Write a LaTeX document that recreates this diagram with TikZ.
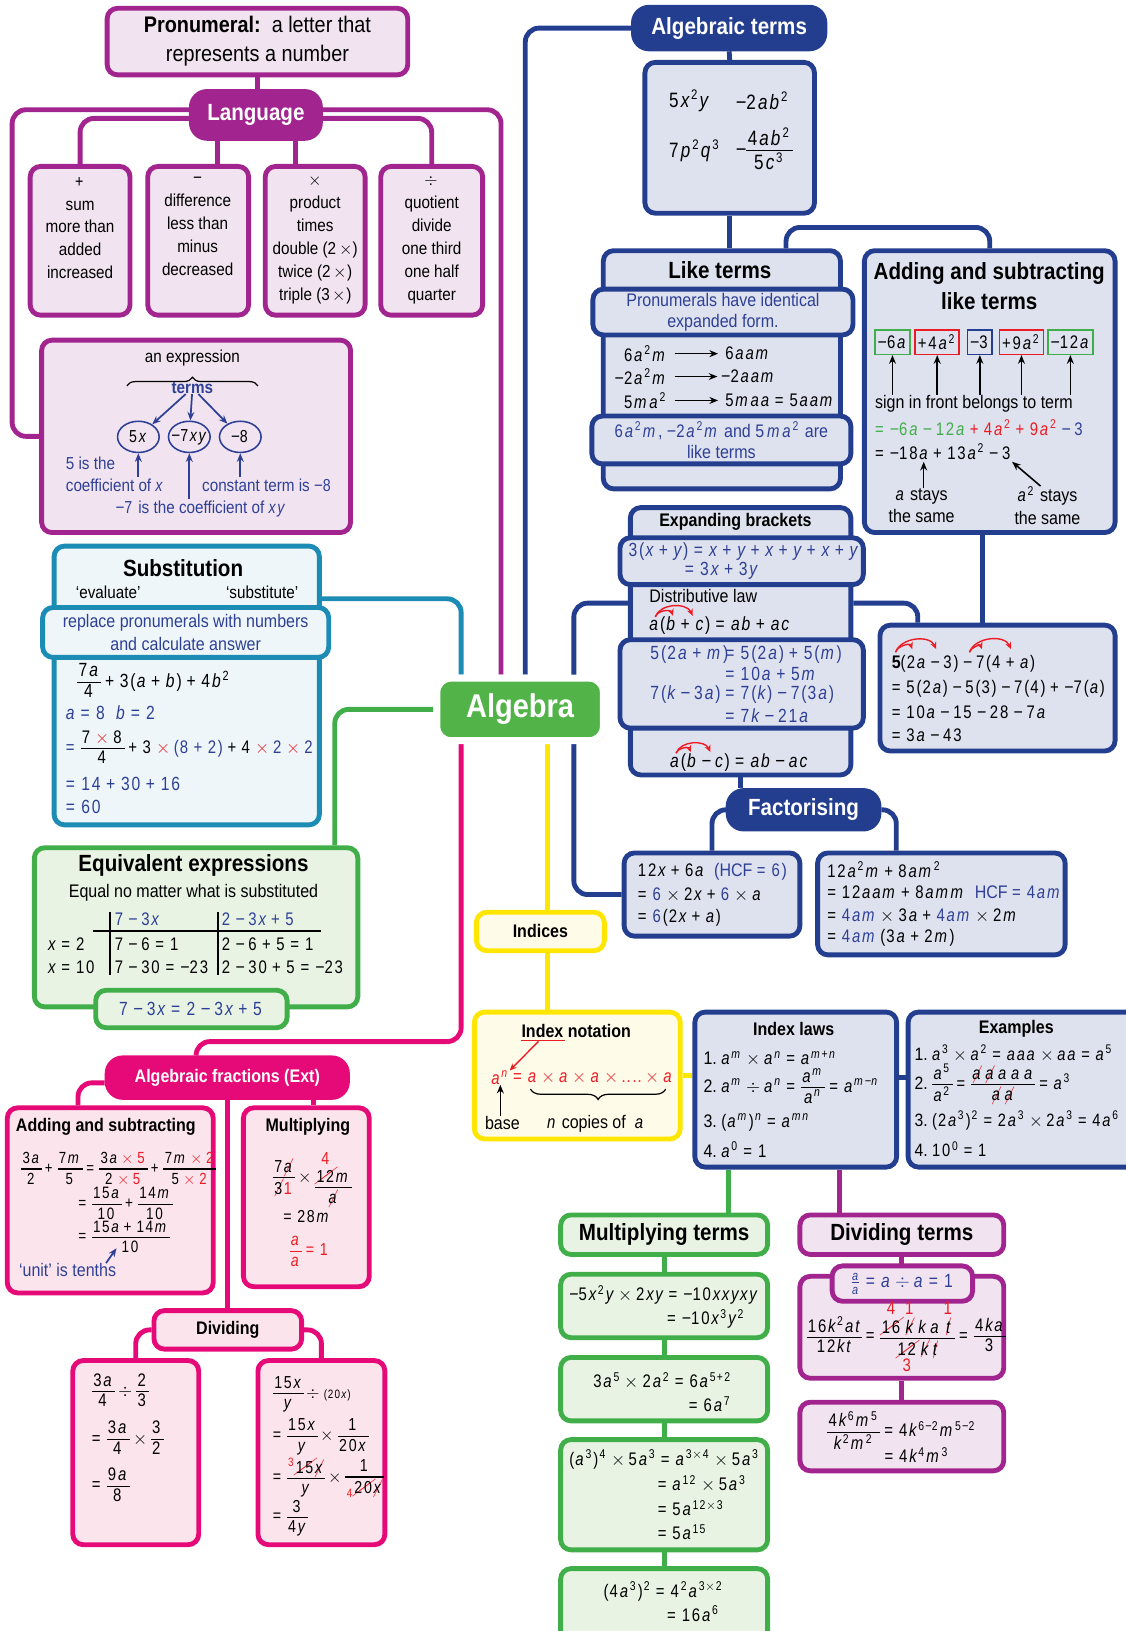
\documentclass[tikz,border=0pt]{standalone}
\usepackage{amsmath}
\usepackage{fontspec}
\setmainfont{Liberation Sans}[FakeStretch=0.88]
\usepackage{unicode-math}
\setmathfont{Latin Modern Math}
\setmathfont{Liberation Sans}[range={up/num,"002B,"003D,"0028,"0029}, FakeStretch=0.82]
\setmathfont{Liberation Sans Italic}[range=it->up, FakeStretch=0.82]
\usepackage{cancel}
\usetikzlibrary{arrows.meta,fit,shapes.geometric,shadows,decorations.pathreplacing}

% short minus taken from the text font
\AtBeginDocument{\mathcode`\-="8000}
\begingroup\lccode`\~=`\-\lowercase{\endgroup\def~}{\mathbin{\text{−}}}

\definecolor{purp}{RGB}{162,36,142}
\definecolor{purpfill}{RGB}{241,228,240}
\definecolor{navy}{RGB}{36,62,143}
\definecolor{navyfill}{RGB}{222,225,238}
\definecolor{subteal}{RGB}{28,140,180}
\definecolor{tealfill}{RGB}{238,246,250}
\definecolor{grn}{RGB}{64,174,73}
\definecolor{grnfill}{RGB}{232,243,228}
\definecolor{algfill}{RGB}{82,180,72}
\definecolor{yel}{RGB}{255,230,0}
\definecolor{yelfill}{RGB}{255,251,233}
\definecolor{pnk}{RGB}{230,10,120}
\definecolor{pnkfill}{RGB}{252,228,236}
\definecolor{tblue}{RGB}{46,64,150}
\definecolor{rd}{RGB}{237,28,36}

\renewcommand{\CancelColor}{\color{rd}}
\newcommand{\redx}{\mathbin{\color{rd}\times}}
\newcommand{\rdig}[1]{{\color{rd}\textstyle #1}}
% compact fraction
\newcommand{\ffstrut}{\vrule height 7.6pt depth 2.2pt width 0pt}
\newcommand{\ff}[2]{\mathord{\vcenter{\offinterlineskip\halign{\hfil\kern0.8pt##\kern0.8pt\hfil\cr\ffstrut$#1$\cr\noalign{\kern0.6pt\hrule height 0.7pt\kern0.8pt}\ffstrut$#2$\cr}}}}
\newcommand{\txtsize}{\fontsize{10}{13.2}\selectfont}
\newcommand{\headsize}{\fontsize{13.5}{17.4}\selectfont\bfseries}
\newcommand{\subheadsize}{\fontsize{10.5}{13}\selectfont\bfseries}
\newcommand{\mthsize}{\fontsize{11}{13.2}\selectfont}
\newcommand{\msz}[1]{\fontsize{#1}{13}\selectfont}
\medmuskip=3.5mu
\thickmuskip=4mu

\pgfdeclarelayer{bg}
\pgfsetlayers{bg,main}

\tikzset{
  cbox/.style={rounded corners=6pt, line width=2.8pt, inner sep=0pt},
  pbox/.style={cbox, draw=purp, fill=purpfill},
  nbox/.style={cbox, draw=navy, fill=navyfill},
  tbox/.style={cbox, draw=subteal, fill=tealfill},
  gbox/.style={cbox, draw=grn, fill=grnfill},
  ybox/.style={cbox, draw=yel, fill=yelfill},
  kbox/.style={cbox, draw=pnk, fill=pnkfill},
  pill/.style={cbox, rounded corners=9pt},
  ppill/.style={pill, draw=purp, fill=purp},
  npill/.style={pill, draw=navy, fill=navy},
  kpill/.style={pill, draw=pnk, fill=pnk},
  algnode/.style={cbox, rounded corners=8pt, draw=white, line width=4pt, fill=algfill,
    drop shadow={opacity=0.3, shadow xshift=1.5pt, shadow yshift=-1.5pt}},
  pilltxt/.style={inner sep=0pt, text=white, font=\headsize},
  txt/.style={inner sep=0pt, align=center, font=\txtsize},
  mth/.style={inner sep=0pt, font=\mthsize, anchor=west},
  head/.style={inner sep=0pt, align=center, font=\headsize},
  subhead/.style={inner sep=0pt, align=center, font=\subheadsize},
  conn/.style={line width=2.8pt, rounded corners=8pt},
  pline/.style={conn, draw=purp},
  nline/.style={conn, draw=navy},
  tline/.style={conn, draw=subteal},
  gline/.style={conn, draw=grn},
  yline/.style={conn, draw=yel},
  kline/.style={conn, draw=pnk},
  barrow/.style={draw=tblue, line width=1pt, -{Stealth[length=5pt,width=4pt]}},
  karrow/.style={draw=black, line width=0.9pt, -{Stealth[length=5pt,width=4pt]}},
  rarc/.style={draw=rd, line width=0.8pt, -{Stealth[length=4pt,width=3.5pt]}},
  ell/.style={ellipse, draw=tblue, line width=0.9pt, minimum width=24pt, minimum height=18pt,
    inner xsep=-2pt, inner ysep=0pt, font=\txtsize},
  tm/.style={draw, line width=0.9pt, inner sep=1.5pt, minimum height=14pt, font=\msz{10.5}}
}

\begin{document}
\begin{tikzpicture}[x=0.6pt, y=-0.6pt]
\useasboundingbox (0,0) rectangle (1082,1568);

% Pronumeral and language
\node[pbox, fit={(103,8)(392,72)}] (pron) {};
\node[txt, font=\fontsize{13}{16.8}\selectfont] (prontxt) at (pron.center) {\textbf{Pronumeral:}\ \ a letter that\\represents a number};
\node[ppill, fit={(184,88)(308,133)}] (lang) {};
\node[pilltxt] (langt) at (lang.center) {Language};

\node[pbox, fit={(29,160)(125,303)}] (sum) {};
\node[pbox, fit={(142,160)(239,303)}] (diff) {};
\node[pbox, fit={(255,160)(351,303)}] (prod) {};
\node[pbox, fit={(366,160)(464,303)}] (quot) {};
\node[txt, anchor=north] (sumtxt) at (77,170) {$+$\\sum\\more than\\added\\increased};
\node[txt, anchor=north] (difftxt) at (190,170) {$-$\\difference\\less than\\minus\\decreased};
\node[txt, anchor=north] (prodtxt) at (303,170) {$\times$\\product\\times\\double (2\,$\times$)\\twice (2\,$\times$)\\triple (3\,$\times$)};
\node[txt, anchor=north] (quottxt) at (415,170) {$\div$\\quotient\\divide\\one third\\one half\\quarter};

% An expression
\node[pbox, fit={(40,327)(337,512)}] (expr) {};
\node[txt] (exprlbl) at (185,344) {an expression};
\draw[decorate, decoration={brace, amplitude=5pt}, line width=0.7pt] (122,371) -- (248,371);
\node[txt, text=tblue, font=\txtsize\bfseries] (terms) at (185,373) {terms};
\node[ell] (e1) at (133,420) {$5x$};
\node[ell] (e2) at (182,420) {$-7xy$};
\node[ell] (e3) at (231,420) {$-8$};
\node[txt, text=tblue, anchor=west] (c5a) at (63,445) {5 is the};
\node[txt, text=tblue, anchor=west] (c5b) at (63,467) {coefficient of $x$};
\node[txt, text=tblue, anchor=west] (c8) at (194,467) {constant term is $-8$};
\node[txt, text=tblue] (c7) at (193,489) {$-7$ is the coefficient of $xy$};
\coordinate (c5p) at (133,459);
\coordinate (c7p) at (182,480);
\coordinate (c8p) at (231,459);
\draw[barrow] (terms) -- (e1);
\draw[barrow] (terms) -- (e2);
\draw[barrow] (terms) -- (e3);
\draw[barrow] (c5p) -- (e1.south);
\draw[barrow] (c7p) -- (e2.south);
\draw[barrow] (c8p) -- (e3.south);

% Substitution
\node[tbox, fit={(52,525)(307,793)}] (subst) {};
\node[head] (substh) at (176,546) {Substitution};
\node[txt] (evalq) at (104,569) {‘evaluate’};
\node[txt] (substq) at (252,569) {‘substitute’};
\node[tbox, fit={(41,584)(316,632)}] (substb) {};
\node[txt, text=tblue, font=\fontsize{10.5}{13}\selectfont] (substbt) at (substb.center) {replace pronumerals with numbers\\and calculate answer};
\node[mth] (sb1) at (74,656) {$\ff{7a}{4} + 3(a + b) + 4b^2$};
\node[mth, text=tblue] (sb2) at (63,685) {$a = 8\ \ b = 2$};
\node[mth, font=\msz{10.5}] (sb3) at (63,720) {$\mathrel{\color{tblue}=}\ff{7\redx 8}{4} + 3\redx{\color{tblue}(8 + 2)} + 4\redx{\color{tblue}2}\redx{\color{tblue}2}$};
\node[mth, text=tblue] (sb4) at (63,754) {$= 14 + 30 + 16$};
\node[mth, text=tblue] (sb5) at (63,776) {$= 60$};

% Equivalent expressions
\node[gbox, fit={(33,815)(344,968)}] (equiv) {};
\node[head] (equivh) at (186,832) {Equivalent expressions};
\node[txt, font=\fontsize{10.5}{13}\selectfont] (equivs) at (186,858) {Equal no matter what is substituted};
\draw[line width=1.2pt] (89,895) -- (309,895);
\draw[line width=1.2pt] (106,877) -- (106,937);
\draw[line width=1.2pt] (210,877) -- (210,937);
\node[mth, font=\msz{10.5}, text=tblue] (eqh1) at (110,884) {$7 - 3x$};
\node[mth, font=\msz{10.5}, text=tblue] (eqh2) at (213,884) {$2 - 3x + 5$};
\node[mth, font=\msz{10.5}] (eqr1) at (46,908) {$x = 2$};
\node[mth, font=\msz{10.5}] (eqa1) at (110,908) {$7 - 6 = 1$};
\node[mth, font=\msz{10.5}] (eqb1) at (213,908) {$2 - 6 + 5 = 1$};
\node[mth, font=\msz{10.5}] (eqr2) at (46,930) {$x = 10$};
\node[mth, font=\msz{10.5}] (eqa2) at (110,930) {$7 - 30 = -23$};
\node[mth, font=\msz{10.5}] (eqb2) at (213,930) {$2 - 30 + 5 = -23$};
\node[gbox, fit={(92,952)(276,988)}] (equivp) {};
\node[mth, anchor=center, text=tblue] (equivpt) at (equivp.center) {$7 - 3x = 2 - 3x + 5$};

% Algebraic terms
\node[npill, fit={(609,7)(793,47)}] (aterms) {};
\node[pilltxt] (atermst) at (aterms.center) {Algebraic terms};
\node[nbox, fit={(620,60)(783,205)}] (tbox) {};
\node[mth, font=\msz{12}] (t1) at (643,97) {$5x^2y$};
\node[mth, font=\msz{12}] (t2) at (707,97) {$-2ab^2$};
\node[mth, font=\msz{12}] (t3) at (643,145) {$7p^2q^3$};
\node[mth, font=\msz{12}] (t4) at (707,145) {$-\ff{4ab^2}{5c^3}$};

% Like terms
\node[nbox, fit={(580,241)(808,470)}] (like) {};
\node[head] (likeh) at (692,260) {Like terms};
\node[nbox, fit={(570,278)(820,322)}] (likeb1) {};
\node[txt, text=tblue, font=\fontsize{10.5}{12}\selectfont] (likeb1t) at (likeb1.center) {Pronumerals have identical\\expanded form.};
\node[mth, font=\msz{10.5}, anchor=east] (l1) at (642,340) {$6a^2m$};
\node[mth, font=\msz{10.5}, anchor=east] (l2) at (642,362) {$-2a^2m$};
\node[mth, font=\msz{10.5}, anchor=east] (l3) at (642,385) {$5ma^2$};
\node[mth, font=\msz{10.5}] (r1) at (697,340) {$6aam$};
\node[mth, font=\msz{10.5}] (r2) at (693,362) {$-2aam$};
\node[mth, font=\msz{10.5}] (r3) at (697,385) {$5maa = 5aam$};
\draw[karrow] ([xshift=4pt]l1.east) -- ([xshift=-4pt]r1.west);
\draw[karrow] ([xshift=4pt]l2.east) -- ([xshift=-2pt]r2.west);
\draw[karrow] ([xshift=4pt]l3.east) -- ([xshift=-4pt]r3.west);
\node[nbox, fit={(569,400)(818,446)}] (likeb2) {};
\node[txt, text=tblue, font=\fontsize{10.5}{12}\selectfont] (likeb2t) at (likeb2.center) {$6a^2m$, $-2a^2m$ and 5\,$ma^2$ are\\like terms};

% Adding and subtracting like terms
\node[nbox, fit={(831,241)(1072,512)}] (addsub) {};
\node[head] (addsubh) at (951,275) {Adding and subtracting\\like terms};
\node[tm, draw=grn] (s1) at (858,329) {$-6a$};
\node[tm, draw=rd] (s2) at (901,329) {$+4a^2$};
\node[tm, draw=navy] (s3) at (942,329) {$-3$};
\node[tm, draw=rd] (s4) at (982,329) {$+9a^2$};
\node[tm, draw=grn] (s5) at (1029,329) {$-12a$};
\node[txt, anchor=west, font=\fontsize{10.5}{13}\selectfont] (sign) at (841,388) {sign in front belongs to term};
\draw[karrow] (s1.south |- sign.north) -- (s1.south);
\draw[karrow] (s2.south |- sign.north) -- (s2.south);
\draw[karrow] (s3.south |- sign.north) -- (s3.south);
\draw[karrow] (s4.south |- sign.north) -- (s4.south);
\draw[karrow] (s5.south |- sign.north) -- (s5.south);
\node[mth, font=\msz{10.5}] (as1) at (841,411) {$\color{grn} = -6a - 12a \mathbin{\color{rd}+} {\color{rd}4a^2 + 9a^2} \mathbin{\color{tblue}\text{−}} {\color{tblue}3}$};
\node[mth, font=\msz{10.5}] (as2) at (841,434) {$= -18a + 13a^2 - 3$};
\node[txt, font=\fontsize{10.5}{13}\selectfont] (stay1) at (886,486) {$a$ stays\\the same};
\node[txt, font=\fontsize{10.5}{13}\selectfont] (stay2) at (1007,486) {$a^2$ stays\\the same};
\coordinate (aend) at (888,444);
\coordinate (a2end) at (973,444);
\draw[karrow] (stay1.north -| aend) -- (aend);
\draw[karrow] ([xshift=-4pt]stay2.north) -- (a2end);

% Expanding brackets
\node[nbox, fit={(606,488)(818,745)}] (expand) {};
\node[subhead] (expandh) at (707,502) {Expanding brackets};
\node[nbox, fit={(596,517)(830,562)}] (expb1) {};
\node[mth, text=tblue] (xb1) at (604,530) {$3(x + y) = x + y + x + y + x + y$};
\node[mth, text=tblue] (xb2) at (658,549) {$= 3x + 3y$};
\node[txt, anchor=west, font=\fontsize{10.5}{13}\selectfont] (distl) at (624,573) {Distributive law};
\node[mth] (dist1) at (624,601) {$a(b + c) = ab + ac$};
\draw[rarc] (630,593) to[out=75, in=110] (647,592);
\draw[rarc] (630,593) to[out=70, in=115] (666,592);
\node[nbox, fit={(596,615)(830,700)}] (expb2) {};
\node[mth, text=tblue] (eb1) at (625,629) {$5(2a + m)$};
\node[mth, text=tblue] (eb2) at (697,629) {$= 5(2a) + 5(m)$};
\node[mth, text=tblue] (eb3) at (697,648) {$=10a + 5m$};
\node[mth, text=tblue] (eb4) at (625,668) {$7(k - 3a)$};
\node[mth, text=tblue] (eb5) at (697,668) {$= 7(k) - 7(3a)$};
\node[mth, text=tblue] (eb6) at (697,688) {$= 7k - 21a$};
\node[mth] (dist2) at (644,733) {$a(b - c) = ab - ac$};
\draw[rarc] (650,724) to[out=75, in=110] (664,723);
\draw[rarc] (650,724) to[out=70, in=115] (683,723);

% Expanding example
\node[nbox, fit={(846,601)(1072,722)}] (ex2) {};
\node[mth, font=\msz{10.5}] (x21) at (857,638) {\textbf{5}$(2a - 3) - 7(4 + a)$};
\node[mth, font=\msz{10.5}] (x22) at (857,662) {$= 5(2a) - 5(3) - 7(4) + -7(a)$};
\node[mth, font=\msz{10.5}] (x23) at (857,685) {$= 10a - 15 - 28 - 7a$};
\node[mth, font=\msz{10.5}] (x24) at (857,707) {$= 3a - 43$};
\draw[rarc] (861,627) to[out=75, in=110] (877,624);
\draw[rarc] (861,627) to[out=70, in=115] (900,624);
\draw[rarc] (932,627) to[out=75, in=110] (944,624);
\draw[rarc] (932,627) to[out=70, in=115] (972,624);

% Factorising
\node[npill, fit={(700,760)(845,797)}] (factp) {};
\node[pilltxt] (factpt) at (factp.center) {Factorising};
\node[nbox, fit={(600,820)(769,900)}] (fact1) {};
\node[mth, font=\msz{10.5}] (f11) at (613,838) {$12x + 6a$\ \ \textcolor{tblue}{(HCF $= 6$)}};
\node[mth, font=\msz{10.5}] (f12) at (613,860) {$= {\color{tblue}6} \times 2x + {\color{tblue}6} \times a$};
\node[mth, font=\msz{10.5}] (f13) at (613,882) {$= {\color{tblue}6}(2x + a)$};
\node[nbox, fit={(786,820)(1024,918)}] (fact2) {};
\node[mth, font=\msz{10.5}] (f21) at (795,836) {$12a^2m + 8am^2$};
\node[mth, font=\msz{10.5}] (f22) at (795,858) {$= 12aam + 8amm$\ \ \textcolor{tblue}{HCF $= 4am$}};
\node[mth, font=\msz{10.5}] (f23) at (795,880) {$= {\color{tblue}4am} \times 3a + {\color{tblue}4am} \times 2m$};
\node[mth, font=\msz{10.5}] (f24) at (795,902) {$= {\color{tblue}4am}\,(3a + 2m)$};

% Algebra centre
\node[algnode, fit={(420,652)(580,712)}] (alg) {};
\node[pilltxt, font=\fontsize{19}{22}\selectfont\bfseries] (algt) at (alg.center) {Algebra};

% Indices
\node[ybox, fit={(458,877)(581,914)}] (indices) {};
\node[subhead] (indicest) at (indices.center) {Indices};
\node[ybox, fit={(456,973)(654,1095)}] (inot) {};
\node[subhead] (inoth) at (554,991) {Index notation};
\draw[rd, line width=1pt] ([yshift=-1.5pt]inoth.south west) -- ++(42,0);
\node[mth, font=\msz{10.5}, text=rd] (an) at (472,1036) {$a^n$};
\node[mth, font=\msz{10.5}, text=rd] (anprod) at (an.east) {$\,= a \times a \times a \times {....} \times a$};
\draw[rarc] ([xshift=10pt,yshift=-2pt]inoth.south west) -- (an.north east);
\draw[decorate, decoration={brace, amplitude=6pt}, line width=0.7pt] (640,1047) -- (510,1047);
\node[txt, font=\fontsize{10.5}{13}\selectfont] (base) at (483,1080) {base};
\node[txt, font=\fontsize{10.5}{13}\selectfont] (copies) at (573,1080) {$n$ copies of\ \ $a$};
\draw[karrow] (base.north -| an.south) -- (an.south);

\node[nbox, fit={(668,973)(862,1122)}] (ilaws) {};
\node[subhead] (ilawsh) at (763,989) {Index laws};
\node[mth, font=\msz{10.5}] (il1) at (676,1017) {1.\ $a^m \times a^n = a^{m+n}$};
\node[mth, font=\msz{10.5}] (il2) at (676,1046) {2.\ $a^m \div a^n = \ff{a^m}{a^n} = a^{m-n}$};
\node[mth, font=\msz{10.5}] (il3) at (676,1079) {3.\ $(a^m)^n = a^{mn}$};
\node[mth, font=\msz{10.5}] (il4) at (676,1105) {4.\ $a^0 = 1$};

\node[nbox, fit={(873,973)(1095,1122)}] (iex) {};
\node[subhead] (iexh) at (977,989) {Examples};
\node[mth, font=\msz{10.3}] (ie1) at (879,1012) {1.\ $a^3 \times a^2 = aaa \times aa = a^5$};
\node[mth, font=\msz{10.3}] (ie2) at (879,1043) {2.\ $\ff{a^5}{a^2} = \ff{\cancel{a}\,\cancel{a}\,a\,a\,a}{\cancel{a}\,\cancel{a}} = a^3$};
\node[mth, font=\msz{10.3}] (ie3) at (879,1077) {3.\ $(2a^3)^2 = 2a^3 \times 2a^3 = 4a^6$};
\node[mth, font=\msz{10.3}] (ie4) at (879,1105) {4.\ $10^0 = 1$};

% Multiplying terms
\node[gbox, fit={(539,1168)(738,1206)}] (mhead) {};
\node[head] (mheadt) at (mhead.center) {Multiplying terms};
\node[gbox, fit={(539,1225)(738,1286)}] (m1) {};
\node[mth, font=\msz{10.5}] (m1a) at (547,1245) {$-5x^2y \times 2xy = -10xxyxy$};
\node[mth, font=\msz{10.5}] (m1b) at (641,1268) {$= -10x^3y^2$};
\node[gbox, fit={(539,1305)(738,1366)}] (m2) {};
\node[mth, font=\msz{10.5}] (m2a) at (570,1327) {$3a^5 \times 2a^2 = 6a^{5+2}$};
\node[mth, font=\msz{10.5}] (m2b) at (662,1350) {$= 6a^7$};
\node[gbox, fit={(539,1384)(738,1490)}] (m3) {};
\node[mth, font=\msz{10.5}] (m3a) at (547,1403) {$(a^3)^4 \times 5a^3 = a^{3\times4} \times 5a^3$};
\node[mth, font=\msz{10.5}] (m3b) at (632,1426) {$= a^{12} \times 5a^3$};
\node[mth, font=\msz{10.5}] (m3c) at (632,1450) {$= 5a^{12\times3}$};
\node[mth, font=\msz{10.5}] (m3d) at (632,1473) {$= 5a^{15}$};
\node[gbox, fit={(539,1508)(738,1600)}] (m4) {};
\node[mth, font=\msz{10.5}] (m4a) at (580,1530) {$(4a^3)^2 = 4^2a^{3\times2}$};
\node[mth, font=\msz{10.5}] (m4b) at (641,1551) {$= 16a^6$};

% Dividing terms
\node[pbox, fit={(769,1168)(965,1206)}] (dhead) {};
\node[head] (dheadt) at (dhead.center) {Dividing terms};
\node[pbox, fit={(769,1227)(965,1325)}] (d1) {};
\node[pbox, fit={(800,1217)(935,1251)}] (d1b) {};
\node[mth, anchor=center, text=tblue] (d1bt) at (d1b.center) {$\frac{a}{a} = a \div a = 1$};
\node[mth, font=\msz{10.5}] (d1t) at (775,1285) {$\ff{16k^2at}{12kt} = \ff{\overset{\rdig{4}}{\cancel{16}}\,\overset{\rdig{1}}{\cancel{k}}\,k\,a\,\overset{\rdig{1}}{\cancel{t}}}{\underset{\rdig{3}}{\cancel{12}}\,\cancel{k}\,\cancel{t}} = \ff{4ka}{3}$};
\node[pbox, fit={(769,1348)(965,1414)}] (d2) {};
\node[mth, font=\msz{10.5}] (d2a) at (795,1377) {$\ff{4k^6m^5}{k^2m^2} = 4k^{6-2}m^{5-2}$};
\node[mth, font=\msz{10.5}] (d2b) at (850,1399) {$= 4k^4m^3$};

% Algebraic fractions
\node[kpill, fit={(103,1017)(334,1055)}] (afrac) {};
\node[pilltxt, font=\subheadsize] (afract) at (afrac.center) {Algebraic fractions (Ext)};
\node[kbox, fit={(7,1065)(205,1243)}] (fadd) {};
\node[subhead, anchor=west] (faddh) at (15,1083) {Adding and subtracting};
\node[mth, font=\msz{9.3}] (fa1) at (20,1124) {$\ff{3a}{2} + \ff{7m}{5} = \ff{3a\redx{\color{rd}5}}{2\redx{\color{rd}5}} + \ff{7m\redx{\color{rd}2}}{5\redx{\color{rd}2}}$};
\node[mth, font=\msz{9.5}] (fa2) at (75,1158) {$= \ff{15a}{10} + \ff{14m}{10}$};
\node[mth, font=\msz{9.5}] (fa3) at (75,1190) {$= \ff{15a + 14m}{10}$};
\node[txt, anchor=west, text=tblue, font=\fontsize{10.5}{13}\selectfont] (unit) at (18,1221) {‘unit’ is tenths};
\coordinate (tenth) at (112,1200);
\draw[barrow] ([xshift=-6pt]unit.north east) -- (tenth);

\node[kbox, fit={(234,1065)(355,1237)}] (fmul) {};
\node[subhead] (fmulh) at (296,1083) {Multiplying};
\node[mth, font=\msz{10}] (fm1) at (262,1133) {$\ff{7\cancel{a}}{\cancel{3}{\color{rd}1}} \times \ff{\overset{\rdig{4}}{\cancel{12}}m}{\cancel{a}}$};
\node[mth, font=\msz{10}] (fm2) at (272,1170) {$= 28m$};
\node[mth, text=rd, font=\msz{10}] (fm3) at (278,1203) {$\ff{a}{a} = 1$};

\node[kbox, fit={(148,1260)(290,1297)}] (fdivp) {};
\node[subhead] (fdivpt) at (fdivp.center) {Dividing};
\node[kbox, fit={(70,1308)(191,1485)}] (fd1) {};
\node[mth, font=\msz{10.5}] (fd1a) at (88,1338) {$\ff{3a}{4} \div \ff{2}{3}$};
\node[mth, font=\msz{10.5}] (fd1b) at (88,1384) {$= \ff{3a}{4} \times \ff{3}{2}$};
\node[mth, font=\msz{10.5}] (fd1c) at (88,1429) {$= \ff{9a}{8}$};
\node[kbox, fit={(248,1308)(370,1485)}] (fd2) {};
\node[mth, font=\msz{10}] (fd2a) at (262,1340) {$\ff{15x}{y} \div {\scriptstyle (20x)}$};
\node[mth, font=\msz{10}] (fd2b) at (262,1381) {$= \ff{15x}{y} \times \ff{1}{20x}$};
\node[mth, font=\msz{10}] (fd2c) at (262,1421) {$= \ff{{}^{\color{rd}3}\cancel{15}\cancel{x}}{y} \times \ff{1}{{}_{\color{rd}4}\cancel{20}\cancel{x}}$};
\node[mth, font=\msz{10}] (fd2d) at (262,1459) {$= \ff{3}{4y}$};

% Connectors
\begin{pgfonlayer}{bg}
\draw[pline] (pron.south) -- (pron.south |- lang.north);
\draw[pline] ([yshift=3pt]lang.west) -- ++(-170,0) |- (expr.west);
\draw[pline] ([yshift=-2pt]lang.west) -| (sum.north);
\draw[pline] ([xshift=-22pt]lang.south) -- ([xshift=-22pt]lang.south |- diff.north);
\draw[pline] ([xshift=23pt]lang.south) -- ([xshift=23pt]lang.south |- prod.north);
\draw[pline] ([yshift=-2pt]lang.east) -| (quot.north);
\draw[pline] ([yshift=3pt]lang.east) -| ([xshift=-11pt]alg.north);

\draw[tline] ([yshift=50pt]subst.east) -| ([xshift=-34pt]alg.north);
\draw[gline] ([xshift=80pt]equiv.north) |- (alg.west);

\draw[nline] (aterms.west) -| ([xshift=3pt]alg.north);
\draw[nline] (aterms.south) -- (tbox.north);
\draw[nline] (tbox.south) -- (tbox.south |- like.north);
\draw[nline] ([xshift=37pt]like.north) -- ++(0,-20) -| (addsub.north);
\draw[nline] ([yshift=22pt]expand.west) -- ++(-52,0) |- (fact1.west);
\draw[nline] ([yshift=22pt]expand.east) -| ([xshift=-46pt]ex2.north);
\draw[nline] ([xshift=-4pt]addsub.south) -- ([xshift=-4pt]addsub.south |- ex2.north);
\draw[nline] (expand.south) -- (expand.south |- factp.north);
\draw[nline] (factp.west) -| (fact1.north);
\draw[nline] (factp.east) -| ([xshift=-26pt]fact2.north);
\draw[nline] ([yshift=7pt]ilaws.east) -- ([yshift=7pt]ilaws.east -| iex.west);

\draw[yline] ([xshift=16pt]alg.south) -- ([xshift=16pt]alg.south |- indices.north);
\draw[yline] ([xshift=4pt]indices.south) -- ([xshift=4pt]indices.south |- inot.north);
\draw[yline] (inot.east) -- (inot.east -| ilaws.west);

\draw[gline] ([xshift=-39pt]ilaws.south) -- ([xshift=-39pt]ilaws.south |- mhead.north);
\draw[gline] (mhead.south) -- (m1.north);
\draw[gline] (m1.south) -- (m2.north);
\draw[gline] (m2.south) -- (m3.north);
\draw[gline] (m3.south) -- (m4.north);
\draw[pline] ([xshift=25pt]ilaws.south) -- ([xshift=25pt]ilaws.south |- dhead.north);
\draw[pline] (dhead.south) -- (d1.north);
\draw[pline] (d1.south) -- (d2.north);

\draw[kline] ([xshift=-34pt]alg.south) -- ++(0,286) -| ([xshift=-18pt]afrac.north);
\draw[kline] ([yshift=-3pt]afrac.west) -| ([xshift=-18.6pt]fadd.north);
\draw[kline] ([xshift=4pt]fmul.north |- afrac.south) -- ([xshift=4pt]fmul.north);
\draw[kline] (afrac.south) -- (afrac.south |- fdivp.north);
\draw[kline] (fdivp.west) -| (fd1.north);
\draw[kline] (fdivp.east) -| (fd2.north);
\end{pgfonlayer}
\end{tikzpicture}
\end{document}
